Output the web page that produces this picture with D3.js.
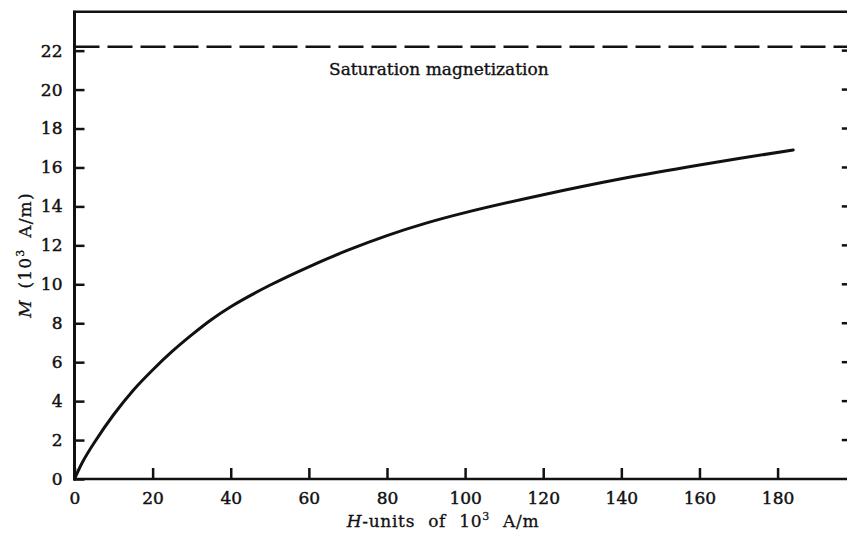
<!DOCTYPE html>
<html>
<head>
<meta charset="utf-8">
<script src="https://cdn.jsdelivr.net/npm/d3@7"></script>
<style>
  body { margin: 0; background: #fff; }
  svg text { font-family: "DejaVu Serif", serif; fill: #111; }
</style>
</head>
<body>
<svg id="chart" width="847" height="538"></svg>
<script>
// magnetization curve (H in 10^3 A/m, M in 10^3 A/m)
let hValues = [0, 2, 5, 10, 15, 20, 25, 30, 35, 40, 50, 60, 70, 80, 90, 100, 120, 140, 160, 184];
let mValues = [0, 0.85, 1.85, 3.3, 4.55, 5.6, 6.55, 7.4, 8.18, 8.85, 9.95, 10.9, 11.75, 12.5, 13.14, 13.68, 14.6, 15.42, 16.13, 16.9];
let saturation = 22.2;
let satLabel = "Saturation magnetization";

let xTicks = [0, 20, 40, 60, 80, 100, 120, 140, 160, 180];
let yTicks = [0, 2, 4, 6, 8, 10, 12, 14, 16, 18, 20, 22];

let svg = d3.select("#chart");
let W = 847;

let x = d3.scaleLinear().domain([0, 200]).range([74.5, 855.7]);
let y = d3.scaleLinear().domain([0, 24]).range([479, 11.7]);
let xRight = x(199);

// left axis ticks + labels
let gy = svg.append("g")
    .attr("transform", "translate(" + x(0) + ",0)")
    .call(d3.axisLeft(y).tickValues(yTicks).tickSize(-10).tickPadding(12));
gy.select(".domain").remove();
gy.selectAll("line").attr("stroke", "#111").attr("stroke-width", 2.5);
gy.selectAll("text").style("font-size", "17px").attr("stroke", "#111").attr("stroke-width", 0.45);

// bottom axis ticks + labels
let gx = svg.append("g")
    .attr("transform", "translate(0," + y(0) + ")")
    .call(d3.axisBottom(x).tickValues(xTicks).tickSize(-11).tickPadding(13));
gx.select(".domain").remove();
gx.selectAll("line").attr("stroke", "#111").attr("stroke-width", 2.5);
gx.selectAll("text").style("font-size", "17px").attr("stroke", "#111").attr("stroke-width", 0.45);

// right side ticks (axis line falls just outside the picture)
svg.append("g").selectAll("line")
    .data(yTicks.filter(d => d > 0))
    .join("line")
    .attr("x1", xRight - 10).attr("x2", xRight)
    .attr("y1", d => y(d)).attr("y2", d => y(d))
    .attr("stroke", "#111").attr("stroke-width", 2.5);

// frame
svg.append("line")
    .attr("x1", x(0)).attr("x2", x(0))
    .attr("y1", y(24) - 1).attr("y2", y(0) + 1.5)
    .attr("stroke", "#111").attr("stroke-width", 3);
svg.append("line")
    .attr("x1", x(0) - 1.5).attr("x2", W)
    .attr("y1", y(24)).attr("y2", y(24))
    .attr("stroke", "#111").attr("stroke-width", 2.5);
svg.append("line")
    .attr("x1", x(0) - 1.5).attr("x2", W)
    .attr("y1", y(0)).attr("y2", y(0))
    .attr("stroke", "#111").attr("stroke-width", 2.5);

// saturation line
svg.append("line")
    .attr("x1", x(0)).attr("x2", W)
    .attr("y1", y(saturation)).attr("y2", y(saturation))
    .attr("stroke", "#111").attr("stroke-width", 2.5)
    .attr("stroke-dasharray", "25,8");

svg.append("text")
    .attr("x", 329).attr("y", 75)
    .style("font-size", "17px")
    .attr("stroke", "#111").attr("stroke-width", 0.35)
    .text(satLabel);

// magnetization curve
let pts = hValues.map((h, i) => [h, mValues[i]]);
let line = d3.line()
    .x(d => x(d[0]))
    .y(d => y(d[1]))
    .curve(d3.curveCatmullRom.alpha(0.5));

svg.append("path")
    .datum(pts)
    .attr("d", line)
    .attr("fill", "none")
    .attr("stroke", "#111")
    .attr("stroke-width", 3)
    .attr("stroke-linecap", "round");

// axis titles
let xt = svg.append("text")
    .attr("x", 443).attr("y", 527)
    .attr("text-anchor", "middle")
    .style("font-size", "17px")
    .style("letter-spacing", "0.7px")
    .style("word-spacing", "7px")
    .attr("stroke", "#111").attr("stroke-width", 0.3);
xt.append("tspan").style("font-style", "italic").text("H");
xt.append("tspan").text("-units of 10");
xt.append("tspan").attr("dy", -7).style("font-size", "11px").text("3");
xt.append("tspan").attr("dy", 7).text(" A/m");

let yt = svg.append("text")
    .attr("transform", "translate(31,255) rotate(-90)")
    .attr("text-anchor", "middle")
    .style("font-size", "17px")
    .style("letter-spacing", "1.2px")
    .style("word-spacing", "4px")
    .attr("stroke", "#111").attr("stroke-width", 0.3);
yt.append("tspan").style("font-style", "italic").text("M");
yt.append("tspan").text(" (10");
yt.append("tspan").attr("dy", -7).style("font-size", "11px").text("3");
yt.append("tspan").attr("dy", 7).text(" A/m)");
</script>
</body>
</html>
